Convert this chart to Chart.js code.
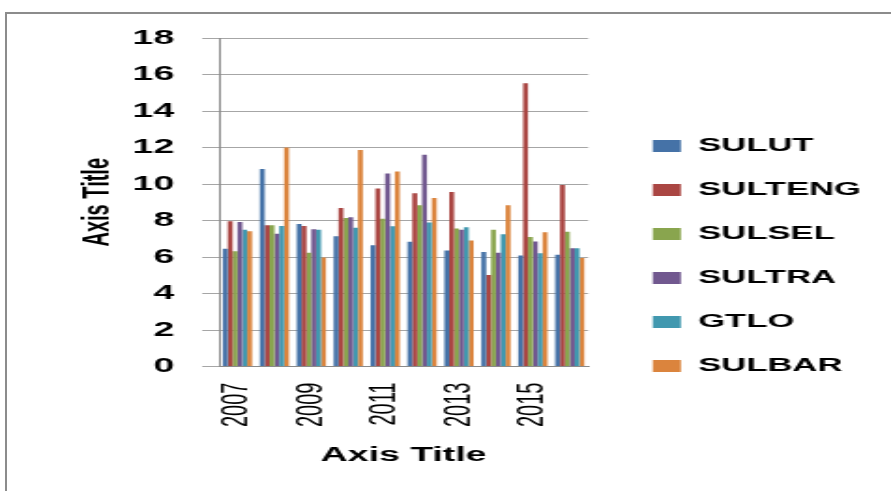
<!DOCTYPE html>
<html>
<head>
<meta charset="utf-8">
<script src="https://cdn.jsdelivr.net/npm/chart.js@4"></script>
<style>
  html, body { margin: 0; padding: 0; background: #fff; overflow: hidden; }
  #frame {
    position: absolute; left: 5px; top: 12px; width: 1000px; height: 600px;
    border-left: 2px solid #8c8c8c; border-top: 2px solid #8c8c8c;
  }
  /* the reference picture is stretched sideways, so the chart is too */
  #wrap {
    position: absolute; left: 0; top: 0; width: 476px; height: 491px;
    transform: scaleX(1.8718); transform-origin: 0 0;
  }
</style>
</head>
<body>
<div id="frame"></div>
<div id="wrap"><canvas id="chart"></canvas></div>
<script>
const years = ['2007', '2008', '2009', '2010', '2011', '2012', '2013', '2014', '2015', '2016'];
const seriesNames = ['SULUT', 'SULTENG', 'SULSEL', 'SULTRA', 'GTLO', 'SULBAR'];
const sulut   = [6.45, 10.82, 7.81, 7.14, 6.65, 6.83, 6.36, 6.27, 6.08, 6.12];
const sulteng = [7.96, 7.74, 7.70, 8.69, 9.76, 9.49, 9.56, 5.01, 15.52, 9.95];
const sulsel  = [6.32, 7.74, 6.23, 8.14, 8.10, 8.83, 7.56, 7.50, 7.10, 7.38];
const sultra  = [7.92, 7.27, 7.52, 8.18, 10.58, 11.60, 7.49, 6.23, 6.85, 6.48];
const gtlo    = [7.50, 7.70, 7.50, 7.60, 7.69, 7.89, 7.63, 7.25, 6.21, 6.48];
const sulbar  = [7.41, 12.00, 5.97, 11.86, 10.69, 9.23, 6.90, 8.83, 7.36, 5.94];
const colors = ['#4572A7', '#AA4643', '#89A54E', '#71588F', '#4198AF', '#DB843D'];

const allValues = [sulut, sulteng, sulsel, sultra, gtlo, sulbar];
const FONT = 'Liberation Sans';

const ctx = document.getElementById('chart').getContext('2d');
const chart = new Chart(ctx, {
    type: 'bar',
    data: {
        labels: years,
        datasets: seriesNames.map((name, i) => ({
            label: name,
            data: allValues[i],
            backgroundColor: colors[i],
            borderWidth: 0,
            barPercentage: 1.0,
            categoryPercentage: 0.79
        }))
    },
    options: {
        responsive: true,
        maintainAspectRatio: false,
        animation: false,
        layout: {
            padding: { left: 36, right: 6, top: 38, bottom: 17 }
        },
        scales: {
            x: {
                grid: { display: false, drawTicks: false },
                border: { display: true, color: '#8a8a8a', width: 1 },
                ticks: {
                    autoSkip: false,
                    minRotation: 90,
                    maxRotation: 90,
                    padding: 16,
                    color: '#000',
                    font: { family: FONT, size: 20 },
                    callback: function(value, index) {
                        return index % 2 === 0 ? this.getLabelForValue(value) : '';
                    }
                },
                title: {
                    display: true,
                    text: 'Axis Title',
                    color: '#000',
                    font: { family: FONT, size: 20, weight: 'bold' },
                    padding: { top: 0, bottom: 7 }
                }
            },
            y: {
                min: 0,
                max: 18,
                ticks: {
                    stepSize: 2,
                    padding: 15,
                    color: '#000',
                    font: { family: FONT, size: 20, weight: 'bold' }
                },
                grid: { color: '#a6a6a6', tickLength: 9, drawTicks: true },
                border: { display: true, color: '#8a8a8a', width: 1 },
                title: {
                    display: true,
                    text: 'Axis Title',
                    color: '#000',
                    font: { family: FONT, size: 20, weight: 'bold' },
                    padding: { top: 4, bottom: 7 }
                },
                // layout caps side boxes at a share of the width, keep the full size
                afterFit: (scale) => { scale.width = 81; }
            },
            // empty space between the plot and the legend
            gap: {
                type: 'linear',
                position: 'right',
                display: true,
                grid: { display: false, drawTicks: false },
                ticks: { display: false },
                border: { display: false },
                afterFit: (scale) => { scale.width = 9; }
            }
        },
        plugins: {
            tooltip: { enabled: false },
            legend: {
                display: true,
                position: 'right',
                maxWidth: 200,
                labels: {
                    boxWidth: 15,
                    boxHeight: 12,
                    padding: 25.5,
                    color: '#000',
                    font: { family: FONT, size: 18.5, weight: 'bold' }
                }
            }
        }
    }
});
</script>
</body>
</html>
